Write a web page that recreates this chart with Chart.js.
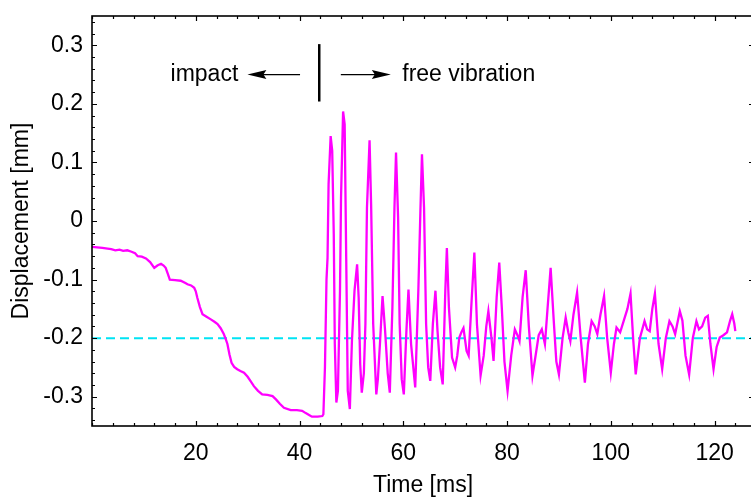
<!DOCTYPE html>
<html>
<head>
<meta charset="utf-8">
<script src="https://cdn.jsdelivr.net/npm/chart.js@4.4.1/dist/chart.umd.min.js"></script>
<style>
  html, body { margin: 0; padding: 0; background: #fff; overflow: hidden; }
  #chart { display: block; }
</style>
</head>
<body>
<canvas id="chart" width="754" height="498"></canvas>
<script>
// time [ms] and displacement [mm]
const timeMs = [
  0.0, 1.0, 2.0, 3.0, 3.7, 4.5, 5.3, 6.0, 6.8, 7.5, 8.3, 8.8, 9.6, 10.4, 11.2, 12.0, 12.6, 13.3, 13.8, 14.2,
  14.6, 15.0, 16.0, 17.1, 18.0, 18.4, 19.1, 19.7, 20.0, 20.3, 20.8, 21.3, 22.0, 22.9, 23.6, 24.2, 24.8, 25.4, 25.8, 26.1,
  26.5, 26.9, 27.4, 28.0, 28.6, 29.3, 30.0, 30.6, 31.2, 32.0, 32.8, 33.8, 34.8, 35.5, 36.2, 37.0, 38.3, 39.5, 40.5, 41.2,
  42.0, 42.4, 43.5, 44.4, 44.6, 44.9, 45.2, 45.4, 45.6, 46.0, 46.3, 46.6, 46.8, 47.1, 47.4, 47.8, 48.0, 48.4, 48.7, 49.0,
  49.3, 49.7, 50.1, 50.6, 51.1, 51.4, 51.7, 52.0, 52.4, 52.7, 53.0, 53.5, 53.8, 54.2, 54.8, 55.1, 55.5, 56.0, 56.5, 57.0,
  57.4, 57.9, 58.3, 58.6, 59.0, 59.3, 59.7, 60.1, 60.6, 61.0, 61.5, 62.3, 62.9, 63.3, 63.6, 64.0, 64.4, 64.8, 65.2, 65.7,
  66.2, 66.6, 67.1, 67.6, 68.1, 68.4, 68.8, 69.4, 70.0, 70.4, 70.8, 71.2, 71.6, 72.2, 72.6, 73.2, 73.7, 74.2, 74.9, 75.5,
  76.0, 76.4, 77.0, 77.4, 78.0, 78.5, 79.0, 79.5, 80.1, 80.8, 81.5, 82.0, 82.4, 83.0, 83.6, 84.2, 84.9, 85.5, 86.1, 86.7,
  87.3, 87.8, 88.4, 89.0, 89.5, 90.0, 90.7, 91.3, 91.8, 92.2, 92.8, 93.5, 94.2, 95.0, 95.6, 96.3, 96.9, 97.4, 98.0, 98.7,
  99.3, 100.0, 100.6, 101.1, 101.8, 102.5, 103.2, 103.8, 104.3, 104.8, 105.6, 106.5, 107.0, 107.5, 108.0, 108.5, 109.2, 109.9, 110.6, 111.3,
  111.9, 112.4, 113.3, 113.8, 114.4, 115.1, 115.8, 116.5, 117.0, 117.6, 118.2, 118.7, 119.2, 119.8, 120.4, 121.0, 121.7, 122.4, 123.0, 123.4,
  123.8, 124.0
];
const displacement = [
  -0.044, -0.045, -0.046, -0.047, -0.048, -0.050, -0.049, -0.051, -0.050, -0.052, -0.055, -0.060, -0.061, -0.064, -0.070, -0.080, -0.076, -0.073, -0.076, -0.080,
  -0.090, -0.100, -0.101, -0.102, -0.106, -0.108, -0.110, -0.114, -0.120, -0.131, -0.147, -0.159, -0.163, -0.168, -0.172, -0.176, -0.183, -0.193, -0.202, -0.210,
  -0.228, -0.242, -0.249, -0.253, -0.256, -0.259, -0.266, -0.274, -0.282, -0.290, -0.296, -0.297, -0.299, -0.305, -0.312, -0.319, -0.323, -0.323, -0.324, -0.328,
  -0.332, -0.334, -0.334, -0.333, -0.330, -0.250, -0.100, -0.063, 0.063, 0.145, 0.120, -0.022, -0.210, -0.310, -0.290, -0.119, 0.040, 0.187, 0.165, -0.063,
  -0.290, -0.321, -0.205, -0.119, -0.074, -0.131, -0.245, -0.293, -0.260, -0.176, 0.023, 0.138, 0.028, -0.176, -0.296, -0.270, -0.210, -0.128, -0.188, -0.260,
  -0.293, -0.148, 0.023, 0.117, 0.006, -0.176, -0.270, -0.296, -0.188, -0.117, -0.210, -0.284, -0.119, 0.017, 0.114, 0.023, -0.176, -0.250, -0.273, -0.176,
  -0.119, -0.188, -0.250, -0.279, -0.119, -0.046, -0.148, -0.233, -0.250, -0.230, -0.199, -0.190, -0.183, -0.222, -0.230, -0.131, -0.054, -0.176, -0.264, -0.230,
  -0.180, -0.154, -0.200, -0.239, -0.130, -0.071, -0.150, -0.240, -0.290, -0.230, -0.185, -0.195, -0.205, -0.130, -0.084, -0.180, -0.264, -0.230, -0.195, -0.185,
  -0.210, -0.150, -0.080, -0.170, -0.240, -0.262, -0.200, -0.165, -0.190, -0.205, -0.160, -0.122, -0.200, -0.276, -0.210, -0.171, -0.180, -0.193, -0.160, -0.128,
  -0.200, -0.259, -0.210, -0.182, -0.190, -0.170, -0.150, -0.124, -0.200, -0.262, -0.200, -0.171, -0.185, -0.188, -0.150, -0.124, -0.210, -0.253, -0.200, -0.171,
  -0.180, -0.193, -0.154, -0.170, -0.230, -0.262, -0.200, -0.171, -0.185, -0.180, -0.165, -0.162, -0.210, -0.253, -0.215, -0.199, -0.195, -0.190, -0.170, -0.159,
  -0.175, -0.188
];
const referenceLevel = -0.2;
const referenceSpan = [0, 127.6];

const xRange = [0, 127.6];
const yRange = [-0.35, 0.35];
const xTicks = [20, 40, 60, 80, 100, 120];
const yTicks = [-0.3, -0.2, -0.1, 0, 0.1, 0.2, 0.3];
const xMinorStep = 4;
const yMinorStep = 0.02;

// annotation: split marker between impact and free vibration
const splitTime = 43.8;
const splitSpan = [0.204, 0.302];
const arrowLevel = 0.25;
const impactArrow = [40.1, 29.95];
const freeArrow = [47.96, 57.6];
const impactLabelAt = 28.2;
const freeLabelAt = 59.8;

const FONT = "Arial, 'Liberation Sans', sans-serif";
Chart.defaults.font.family = FONT;
Chart.defaults.font.size = 23;
Chart.defaults.color = '#000';

function arrow(ctx, x0, x1, y) {
    const dir = Math.sign(x1 - x0);
    ctx.beginPath();
    ctx.moveTo(x0, y);
    ctx.lineTo(x1 - dir * 10, y);
    ctx.lineWidth = 1.3;
    ctx.stroke();
    ctx.beginPath();
    ctx.moveTo(x1, y);
    ctx.lineTo(x1 - dir * 19, y - 4.5);
    ctx.lineTo(x1 - dir * 16, y);
    ctx.lineTo(x1 - dir * 19, y + 4.5);
    ctx.closePath();
    ctx.fill();
}

const framePlugin = {
    id: 'frame',
    afterDraw(chart) {
        const {ctx, chartArea: a, scales: {x, y}} = chart;
        ctx.save();
        ctx.strokeStyle = '#000';
        ctx.fillStyle = '#000';
        ctx.lineWidth = 1.6;
        ctx.strokeRect(a.left, a.top, a.right - a.left, a.bottom - a.top);

        // inward ticks on all four sides
        ctx.lineWidth = 1.2;
        ctx.beginPath();
        for (let t = xRange[0]; t <= xRange[1]; t += xMinorStep) {
            const px = Math.round(x.getPixelForValue(t)) + 0.5;
            const len = xTicks.includes(t) ? 5 : 3;
            ctx.moveTo(px, a.bottom); ctx.lineTo(px, a.bottom - len);
            ctx.moveTo(px, a.top); ctx.lineTo(px, a.top + len);
        }
        for (let k = Math.ceil(yRange[0] / yMinorStep); k * yMinorStep <= yRange[1] + 1e-9; k++) {
            const v = k * yMinorStep;
            const py = Math.round(y.getPixelForValue(v)) + 0.5;
            const len = (k % 5 === 0) ? 5 : 3;
            ctx.moveTo(a.left, py); ctx.lineTo(a.left + len, py);
            ctx.moveTo(a.right, py); ctx.lineTo(a.right - len, py);
        }
        ctx.stroke();

        // impact / free vibration annotation
        const ay = y.getPixelForValue(arrowLevel);
        ctx.lineWidth = 2.5;
        ctx.beginPath();
        const sx = x.getPixelForValue(splitTime);
        ctx.moveTo(sx, y.getPixelForValue(splitSpan[0]));
        ctx.lineTo(sx, y.getPixelForValue(splitSpan[1]));
        ctx.stroke();
        arrow(ctx, x.getPixelForValue(impactArrow[0]), x.getPixelForValue(impactArrow[1]), ay);
        arrow(ctx, x.getPixelForValue(freeArrow[0]), x.getPixelForValue(freeArrow[1]), ay);
        ctx.font = '23px ' + FONT;
        ctx.textBaseline = 'middle';
        ctx.textAlign = 'right';
        ctx.fillText('impact', x.getPixelForValue(impactLabelAt), ay);
        ctx.textAlign = 'left';
        ctx.fillText('free vibration', x.getPixelForValue(freeLabelAt), ay);
        ctx.restore();
    }
};

new Chart(document.getElementById('chart'), {
    type: 'line',
    data: {
        datasets: [{
            data: timeMs.map((t, i) => ({x: t, y: displacement[i]})),
            borderColor: '#ff00ff',
            borderWidth: 2.3,
            pointRadius: 0,
            tension: 0,
            fill: false
        }, {
            data: referenceSpan.map(t => ({x: t, y: referenceLevel})),
            borderColor: '#00e4f4',
            borderWidth: 2,
            borderDash: [9, 5],
            pointRadius: 0,
            fill: false
        }]
    },
    options: {
        responsive: false,
        animation: false,
        events: [],
        layout: { padding: { top: 16, right: 0, left: 0, bottom: 0 } },
        plugins: { legend: { display: false }, tooltip: { enabled: false } },
        scales: {
            x: {
                type: 'linear',
                min: xRange[0],
                max: xRange[1],
                afterBuildTicks: s => { s.ticks = xTicks.map(v => ({value: v})); },
                afterFit: s => { s.height = 72; s.paddingLeft = 0; s.paddingRight = 0; },
                grid: { display: false, drawTicks: false },
                border: { display: false },
                ticks: { padding: 14, maxRotation: 0, callback: v => String(v) },
                title: { display: true, text: 'Time [ms]', padding: { top: 0, bottom: -1 } }
            },
            y: {
                type: 'linear',
                min: yRange[0],
                max: yRange[1],
                afterBuildTicks: s => { s.ticks = yTicks.map(v => ({value: v})); },
                afterFit: s => { s.width = 92; s.paddingTop = 0; s.paddingBottom = 0; },
                grid: { display: false, drawTicks: false },
                border: { display: false },
                ticks: { padding: 9, callback: v => String(Number(v.toFixed(1))) },
                title: { display: true, text: 'Displacement [mm]', padding: { top: 8, bottom: 0 } }
            }
        }
    },
    plugins: [framePlugin]
});
</script>
</body>
</html>
